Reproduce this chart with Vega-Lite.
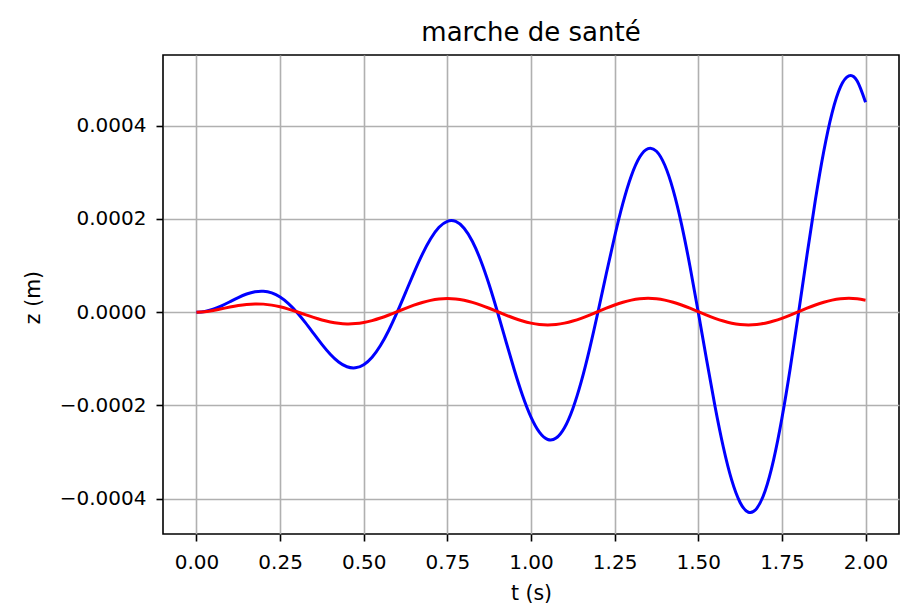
{
  "$schema": "https://vega.github.io/schema/vega-lite/v6.json",
  "width": 736,
  "height": 479,
  "autosize": {"type": "none"},
  "padding": {"left": 163, "top": 55, "right": 4, "bottom": 78},
  "background": "white",
  "title": {"text": "marche de santé", "font": "DejaVu Sans", "fontSize": 26, "fontWeight": "normal", "color": "#000000", "anchor": "middle", "offset": 9},
  "data": {"values": [
    {"t": 0, "blue": 0, "red": 0},
    {"t": 0.025, "blue": 1.68e-6, "red": 1.11e-6},
    {"t": 0.05, "blue": 6.5e-6, "red": 3.75e-6},
    {"t": 0.075, "blue": 13.79e-6, "red": 7.28e-6},
    {"t": 0.1, "blue": 22.52e-6, "red": 11.03e-6},
    {"t": 0.125, "blue": 31.39e-6, "red": 14.38e-6},
    {"t": 0.15, "blue": 39.0e-6, "red": 16.79e-6},
    {"t": 0.175, "blue": 43.95e-6, "red": 17.86e-6},
    {"t": 0.2, "blue": 45.03e-6, "red": 17.36e-6},
    {"t": 0.225, "blue": 41.37e-6, "red": 15.23e-6},
    {"t": 0.25, "blue": 32.5e-6, "red": 11.6e-6},
    {"t": 0.275, "blue": 18.5e-6, "red": 6.72e-6},
    {"t": 0.3, "blue": 0, "red": 0.97e-6},
    {"t": 0.325, "blue": -21.87e-6, "red": -5.16e-6},
    {"t": 0.35, "blue": -45.5e-6, "red": -11.18e-6},
    {"t": 0.375, "blue": -68.94e-6, "red": -16.59e-6},
    {"t": 0.4, "blue": -90.06e-6, "red": -20.93e-6},
    {"t": 0.425, "blue": -106.73e-6, "red": -23.85e-6},
    {"t": 0.45, "blue": -117.0e-6, "red": -25.06e-6},
    {"t": 0.475, "blue": -119.29e-6, "red": -24.45e-6},
    {"t": 0.5, "blue": -112.58e-6, "red": -22.02e-6},
    {"t": 0.525, "blue": -96.52e-6, "red": -17.93e-6},
    {"t": 0.55, "blue": -71.5e-6, "red": -12.44e-6},
    {"t": 0.575, "blue": -38.69e-6, "red": -5.92e-6},
    {"t": 0.6, "blue": 0, "red": 1.16e-6},
    {"t": 0.625, "blue": 42.06e-6, "red": 8.31e-6},
    {"t": 0.65, "blue": 84.5e-6, "red": 15.03e-6},
    {"t": 0.675, "blue": 124.1e-6, "red": 20.85e-6},
    {"t": 0.7, "blue": 157.61e-6, "red": 25.35e-6},
    {"t": 0.725, "blue": 182.07e-6, "red": 28.22e-6},
    {"t": 0.75, "blue": 195.0e-6, "red": 29.24e-6},
    {"t": 0.775, "blue": 194.63e-6, "red": 28.35e-6},
    {"t": 0.8, "blue": 180.13e-6, "red": 25.58e-6},
    {"t": 0.825, "blue": 151.67e-6, "red": 21.14e-6},
    {"t": 0.85, "blue": 110.5e-6, "red": 15.32e-6},
    {"t": 0.875, "blue": 58.88e-6, "red": 8.51e-6},
    {"t": 0.9, "blue": 0, "red": 1.19e-6},
    {"t": 0.925, "blue": -62.24e-6, "red": -6.14e-6},
    {"t": 0.95, "blue": -123.5e-6, "red": -12.98e-6},
    {"t": 0.975, "blue": -179.25e-6, "red": -18.86e-6},
    {"t": 1.0, "blue": -225.16e-6, "red": -23.39e-6},
    {"t": 1.025, "blue": -257.41e-6, "red": -26.24e-6},
    {"t": 1.05, "blue": -273.0e-6, "red": -27.22e-6},
    {"t": 1.075, "blue": -269.97e-6, "red": -26.26e-6},
    {"t": 1.1, "blue": -247.68e-6, "red": -23.43e-6},
    {"t": 1.125, "blue": -206.83e-6, "red": -18.91e-6},
    {"t": 1.15, "blue": -149.5e-6, "red": -13.03e-6},
    {"t": 1.175, "blue": -79.06e-6, "red": -6.17e-6},
    {"t": 1.2, "blue": 0, "red": 1.2e-6},
    {"t": 1.225, "blue": 82.43e-6, "red": 8.57e-6},
    {"t": 1.25, "blue": 162.5e-6, "red": 15.45e-6},
    {"t": 1.275, "blue": 234.4e-6, "red": 21.35e-6},
    {"t": 1.3, "blue": 292.71e-6, "red": 25.88e-6},
    {"t": 1.325, "blue": 332.75e-6, "red": 28.73e-6},
    {"t": 1.35, "blue": 351.0e-6, "red": 29.7e-6},
    {"t": 1.375, "blue": 345.31e-6, "red": 28.73e-6},
    {"t": 1.4, "blue": 315.22e-6, "red": 25.88e-6},
    {"t": 1.425, "blue": 261.98e-6, "red": 21.35e-6},
    {"t": 1.45, "blue": 188.5e-6, "red": 15.45e-6},
    {"t": 1.475, "blue": 99.25e-6, "red": 8.58e-6},
    {"t": 1.5, "blue": 0, "red": 1.2e-6},
    {"t": 1.525, "blue": -102.61e-6, "red": -6.18e-6},
    {"t": 1.55, "blue": -201.5e-6, "red": -13.05e-6},
    {"t": 1.575, "blue": -289.56e-6, "red": -18.95e-6},
    {"t": 1.6, "blue": -360.26e-6, "red": -23.48e-6},
    {"t": 1.625, "blue": -408.09e-6, "red": -26.33e-6},
    {"t": 1.65, "blue": -429.0e-6, "red": -27.3e-6},
    {"t": 1.675, "blue": -420.65e-6, "red": -26.33e-6},
    {"t": 1.7, "blue": -382.77e-6, "red": -23.48e-6},
    {"t": 1.725, "blue": -317.13e-6, "red": -18.95e-6},
    {"t": 1.75, "blue": -227.5e-6, "red": -13.05e-6},
    {"t": 1.775, "blue": -119.44e-6, "red": -6.18e-6},
    {"t": 1.8, "blue": 0, "red": 1.2e-6},
    {"t": 1.825, "blue": 122.8e-6, "red": 8.58e-6},
    {"t": 1.85, "blue": 240.5e-6, "red": 15.45e-6},
    {"t": 1.875, "blue": 344.71e-6, "red": 21.35e-6},
    {"t": 1.9, "blue": 427.8e-6, "red": 25.88e-6},
    {"t": 1.925, "blue": 483.43e-6, "red": 28.73e-6},
    {"t": 1.95, "blue": 507.0e-6, "red": 29.7e-6},
    {"t": 1.975, "blue": 496.01e-6, "red": 28.73e-6},
    {"t": 2.0, "blue": 450.32e-6, "red": 25.88e-6}
  ]},
  "encoding": {
    "x": {
      "field": "t", "type": "quantitative",
      "scale": {"domain": [-0.1, 2.1], "nice": false, "zero": false},
      "axis": {
        "title": "t (s)",
        "values": [0, 0.25, 0.5, 0.75, 1, 1.25, 1.5, 1.75, 2],
        "format": ".2f",
        "labelPadding": 11,
        "labelFlush": false,
        "labelOverlap": false,
        "titleBaseline": "alphabetic",
        "titleY": 65
      }
    }
  },
  "layer": [
    {
      "mark": {"type": "line", "color": "#0000ff", "strokeWidth": 3, "interpolate": "natural"},
      "encoding": {
        "y": {
          "field": "blue", "type": "quantitative",
          "scale": {"domain": [-0.0004757, 0.0005517], "nice": false, "zero": false},
          "axis": {
            "title": "z (m)",
            "values": [-0.0004, -0.0002, 0, 0.0002, 0.0004],
            "format": ".4f",
            "labelPadding": 10,
            "titleAngle": 270,
            "titleBaseline": "alphabetic",
            "titleX": -124,
            "titleY": 242
          }
        }
      }
    },
    {
      "mark": {"type": "line", "color": "#ff0000", "strokeWidth": 3, "interpolate": "natural"},
      "encoding": {
        "y": {
          "field": "red", "type": "quantitative",
          "axis": {
            "title": "z (m)",
            "values": [-0.0004, -0.0002, 0, 0.0002, 0.0004],
            "format": ".4f",
            "labelPadding": 10,
            "titleAngle": 270,
            "titleBaseline": "alphabetic",
            "titleX": -124,
            "titleY": 242
          }
        }
      }
    }
  ],
  "config": {
    "view": {"stroke": "#000000", "strokeWidth": 1.6},
    "axis": {
      "domain": false,
      "labelFont": "DejaVu Sans",
      "labelFontSize": 20,
      "labelColor": "#000000",
      "titleFont": "DejaVu Sans",
      "titleFontSize": 20.5,
      "titleFontWeight": "normal",
      "titleColor": "#000000",
      "tickColor": "#000000",
      "tickWidth": 1.6,
      "tickSize": 7,
      "grid": true,
      "gridColor": "#b0b0b0",
      "gridWidth": 1.6,
      "gridOpacity": 1
    }
  }
}
